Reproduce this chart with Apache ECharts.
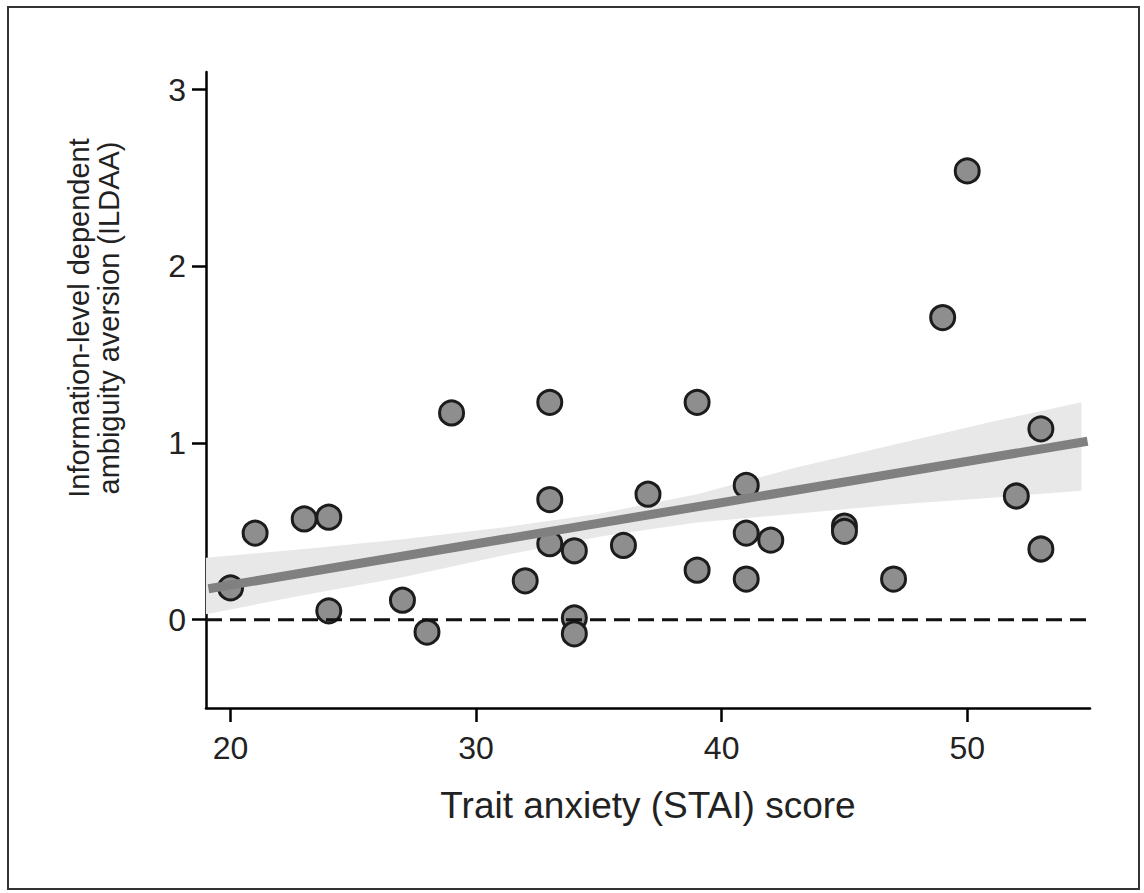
<!DOCTYPE html>
<html>
<head>
<meta charset="utf-8">
<script src="https://cdn.jsdelivr.net/npm/echarts@6/dist/echarts.min.js"></script>
<style>
  html, body { margin: 0; padding: 0; background: #fff; }
  #chart { width: 1144px; height: 893px; }
</style>
</head>
<body>
<div id="chart"></div>
<script>
// STAI trait anxiety score per participant and their ILDAA value
const anxietyScores = [20, 21, 23, 24, 24, 27, 28, 29, 32, 33, 33, 33, 34, 34, 34, 36,
    37, 39, 39, 41, 41, 41, 42, 45, 45, 47, 49, 50, 52, 53, 53]
const ildaaValues = [0.18, 0.49, 0.57, 0.58, 0.05, 0.11, -0.07, 1.17, 0.22, 1.23, 0.68, 0.43, 0.39, 0.01, -0.08, 0.42,
    0.71, 1.23, 0.28, 0.76, 0.49, 0.23, 0.45, 0.53, 0.50, 0.23, 1.71, 2.54, 0.70, 1.08, 0.40]

// regression fit and its confidence band
const fitX = [19.1, 54.9]
const fitY = [0.175, 1.01]
const bandX = [19, 23, 27, 31, 35, 39, 43, 47, 51, 54.65]
const bandLower = [0.03, 0.14, 0.24, 0.36, 0.47, 0.55, 0.60, 0.65, 0.69, 0.73]
const bandUpper = [0.35, 0.40, 0.455, 0.52, 0.60, 0.71, 0.86, 0.99, 1.12, 1.23]

// reference line at zero
const zeroX = [19, 55]
const zeroY = [0, 0]

const xTicks = [20, 30, 40, 50]
const yTicks = [0, 1, 2, 3]

const FONT = '"Liberation Sans", Arial, sans-serif'

const chart = echarts.init(document.getElementById('chart'), null, { renderer: 'svg' })

const points = anxietyScores.map((x, i) => [x, ildaaValues[i]])
const band = bandX.map((x, i) => [x, bandLower[i], bandUpper[i]])

const option = {
    animation: false,
    backgroundColor: '#fff',
    grid: { left: 206, right: 54, top: 72, bottom: 185 },
    xAxis: {
        type: 'value',
        min: 19,
        max: 55,
        name: 'Trait anxiety (STAI) score',
        nameLocation: 'middle',
        nameGap: 79,
        nameTextStyle: { color: '#222', fontSize: 37, fontFamily: FONT },
        splitLine: { show: false },
        axisLine: { show: true, onZero: false, lineStyle: { color: '#000', width: 2.5 } },
        axisTick: { show: true, length: 14, customValues: xTicks, lineStyle: { color: '#000', width: 2.5 } },
        axisLabel: { customValues: xTicks, color: '#222', fontSize: 32, fontFamily: FONT, margin: 24 },
    },
    yAxis: {
        type: 'value',
        min: -0.5,
        max: 3.1,
        splitLine: { show: false },
        axisLine: { show: true, onZero: false, lineStyle: { color: '#000', width: 2.5 } },
        axisTick: { show: true, length: 14, customValues: yTicks, lineStyle: { color: '#000', width: 2.5 } },
        axisLabel: { customValues: yTicks, color: '#222', fontSize: 32, fontFamily: FONT, margin: 20 },
    },
    graphic: [
        {
            type: 'rect',
            shape: { x: 8, y: 7, width: 1131, height: 882 },
            style: { fill: 'none', stroke: '#333', lineWidth: 2 },
            silent: true,
        },
        {
            // y axis title, sits a bit above the axis middle in the original
            type: 'text',
            x: 94,
            y: 318,
            rotation: Math.PI / 2,
            style: {
                text: 'Information-level dependent\nambiguity aversion (ILDAA)',
                fill: '#222',
                font: '29px ' + FONT,
                lineHeight: 30,
                align: 'center',
                verticalAlign: 'middle',
            },
            silent: true,
        },
    ],
    series: [
        {
            type: 'custom',
            name: 'ci',
            data: band,
            z: 1,
            renderItem: (params, api) => {
                if (params.dataIndex !== 0) return null
                const top = band.map(d => api.coord([d[0], d[2]]))
                const bottom = band.map(d => api.coord([d[0], d[1]])).reverse()
                return {
                    type: 'polygon',
                    shape: { points: top.concat(bottom) },
                    style: { fill: '#e8e8e8' },
                }
            },
        },
        {
            type: 'scatter',
            data: points,
            z: 2,
            symbolSize: 24,
            itemStyle: { color: '#8e8e8e', borderColor: '#1c1c1c', borderWidth: 3, opacity: 1 },
        },
        {
            type: 'line',
            data: fitX.map((x, i) => [x, fitY[i]]),
            z: 3,
            symbol: 'none',
            lineStyle: { color: '#808080', width: 9 },
        },
        {
            type: 'line',
            data: zeroX.map((x, i) => [x, zeroY[i]]),
            z: 4,
            symbol: 'none',
            lineStyle: { color: '#111', width: 3, type: [16, 8] },
        },
    ],
}

chart.setOption(option)
</script>
</body>
</html>
